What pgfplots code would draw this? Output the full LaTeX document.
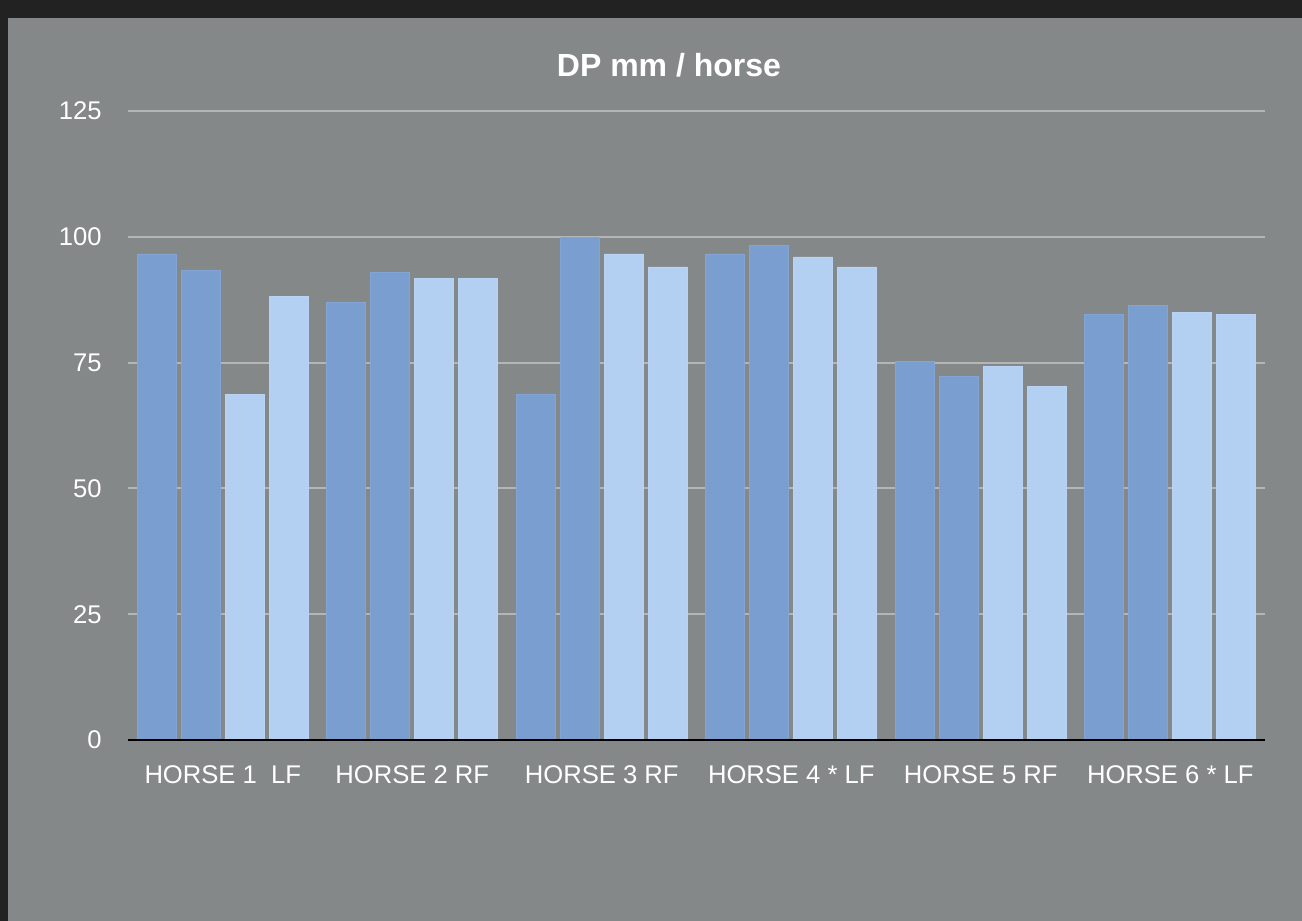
\documentclass[border=0pt]{standalone}
\usepackage{pgfplots}
\pgfplotsset{compat=1.18}
\usepackage{fontspec}
\setmainfont{Liberation Sans}
\definecolor{frame}{HTML}{222222}
\definecolor{panel}{HTML}{858888}
\definecolor{barA}{HTML}{7A9ED0}
\definecolor{barB}{HTML}{B3D0F2}
\definecolor{gridc}{HTML}{B4B6B6}

\begin{document}
\begin{tikzpicture}
\fill[frame] (0,0) rectangle (651pt,-460.5pt);
\fill[panel] (4pt,-9pt) rectangle (651pt,-460.5pt);
\begin{axis}[
  at={(64pt,-370pt)}, anchor=south west,
  width=568.5pt, height=314.5pt, scale only axis,
  xmin=-0.5, xmax=5.5, ymin=0, ymax=125,
  xtick={0,...,5},
  xticklabels={HORSE 1~~LF, HORSE 2 RF, HORSE 3 RF, HORSE 4 * LF, HORSE 5 RF, HORSE 6 * LF},
  ytick={0,25,...,125},
  major tick length=0pt,
  axis line style={draw=none},
  ymajorgrids, major grid style={color=gridc, line width=1pt},
  tick label style={white, font=\fontsize{12.8}{15}\selectfont, inner sep=0pt},
  yticklabel style={anchor=east, xshift=-13pt},
  xticklabel style={anchor=north, yshift=-12.5pt},
  /pgf/number format/assume math mode=true,
  clip=false,
]
\addplot[ybar, bar width=0.205, bar shift=-0.348, fill=barA, draw=barA!93!white, line width=0.4pt]
  coordinates {(0,96.6) (1,87.0) (2,68.6) (3,96.6) (4,75.3) (5,84.5)};
\addplot[ybar, bar width=0.205, bar shift=-0.116, fill=barA, draw=barA!93!white, line width=0.4pt]
  coordinates {(0,93.4) (1,93.0) (2,99.8) (3,98.2) (4,72.3) (5,86.4)};
\addplot[ybar, bar width=0.205, bar shift=0.116, fill=barB, draw=barB!93!white, line width=0.4pt]
  coordinates {(0,68.6) (1,91.8) (2,96.6) (3,96.0) (4,74.3) (5,84.9)};
\addplot[ybar, bar width=0.205, bar shift=0.348, fill=barB, draw=barB!93!white, line width=0.4pt]
  coordinates {(0,88.2) (1,91.8) (2,94.0) (3,94.0) (4,70.2) (5,84.5)};
\draw[black, line width=1pt] (axis cs:-0.5,0) -- (axis cs:5.5,0);
\end{axis}
\node[white, font=\fontsize{16}{19}\selectfont\bfseries] at (334.5pt,-32.5pt) {DP mm / horse};
\end{tikzpicture}
\end{document}
